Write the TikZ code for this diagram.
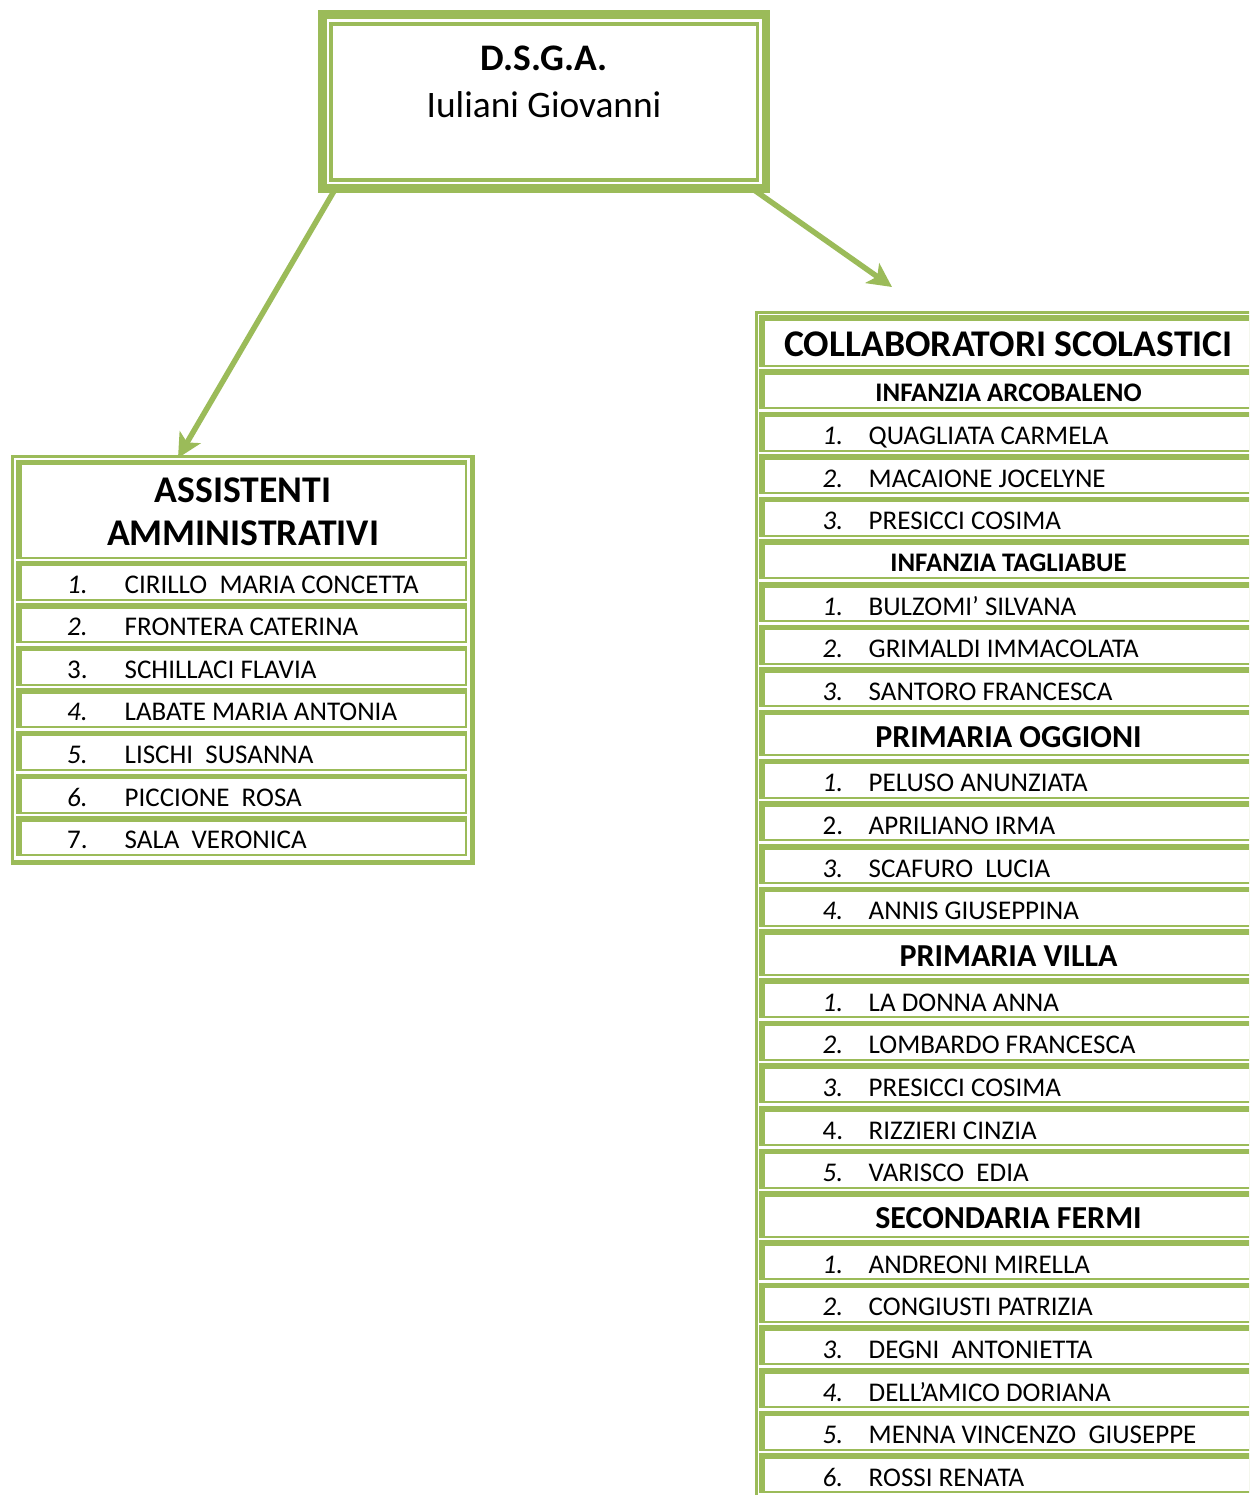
\documentclass[tikz,border=0pt]{standalone}
\usepackage{fontspec}
\setmainfont{Carlito}
\usetikzlibrary{arrows.meta}
\definecolor{leafgreen}{HTML}{9BBB59}

\tikzset{
  cellbox/.style={fill=leafgreen, draw=none, inner sep=0pt, outer sep=0pt, anchor=north west,
    path picture={\fill[white] ([xshift=5.5pt,yshift=-5.5pt]path picture bounding box.north west)
      rectangle ([xshift=-2pt,yshift=2pt]path picture bounding box.south east);}},
  entrytext/.style={inner sep=0pt, anchor=base west, font=\fontsize{27}{32}\selectfont},
  sectiontext/.style={inner sep=0pt, anchor=base, font=\fontsize{26.8}{32}\selectfont\bfseries},
  bigsectiontext/.style={inner sep=0pt, anchor=base, font=\fontsize{32}{38}\selectfont\bfseries},
  headtext/.style={inner sep=0pt, anchor=base, font=\fontsize{37.7}{44}\selectfont\bfseries},
  thinrule/.style={draw=leafgreen, line width=2.5pt},
  thickrule/.style={draw=leafgreen, line width=5.5pt},
  link/.style={draw=leafgreen, line width=5.5pt, -{Stealth[length=24pt,width=24pt,inset=6pt]}},
}

% one numbered row of the left table: name, top, number, entry
\newcommand{\aarow}[4]{%
  \node[cellbox, minimum width=451pt, minimum height=40pt] (#1) at (16,#2) {};
  \node[entrytext] (#1-num) at (67,#2+32.5) {#3};
  \node[entrytext] (#1-name) at (124.5,#2+32.5) {#4};
}
% rows of the right table
\newcommand{\csrow}[4]{%
  \node[cellbox, minimum width=520pt, minimum height=40pt] (#1) at (759,#2) {};
  \node[entrytext] (#1-num) at (822.5,#2+33) {#3};
  \node[entrytext] (#1-name) at (868.5,#2+33) {#4};
}
\newcommand{\cssection}[3]{%
  \node[cellbox, minimum width=520pt, minimum height=40pt] (#1) at (759,#2) {};
  \node[sectiontext] (#1-title) at (1008.5,#2+32.5) {#3};
}
\newcommand{\csbigsection}[3]{%
  \node[cellbox, minimum width=520pt, minimum height=46.5pt] (#1) at (759,#2) {};
  \node[bigsectiontext] (#1-title) at (1008.5,#2+37.5) {#3};
}

\begin{document}
\begin{tikzpicture}[x=1pt,y=-1pt]
\useasboundingbox (0,0) rectangle (1249,1495);
\clip (0,0) rectangle (1249,1495);

% ---- D.S.G.A. box ----
\node[draw=leafgreen, line width=8.5pt, inner sep=0pt, outer sep=0pt,
      minimum width=443.5pt, minimum height=174pt] (dsga) at (544.25,101.5) {};
\draw[leafgreen, line width=3.5pt] ([xshift=8.5pt,yshift=-9.5pt]dsga.north west)
  rectangle ([xshift=-8.5pt,yshift=8.5pt]dsga.south east);
\node[headtext, font=\fontsize{37.5}{44}\selectfont\bfseries] (dsga-title) at (544,70.5) {D.S.G.A.};
\node[inner sep=0pt, anchor=base, font=\fontsize{37.4}{44}\selectfont] (dsga-name) at (544,117.5) {Iuliani Giovanni};

% ---- Assistenti amministrativi ----
\node[inner sep=0pt, outer sep=0pt, anchor=north west, minimum width=464pt, minimum height=410pt] (aa) at (11,455) {};
\draw[thinrule] ([xshift=1.25pt]aa.south west) -- ([xshift=1.25pt,yshift=-1.25pt]aa.north west) -- ([yshift=-1.25pt]aa.north east);
\draw[thickrule] ([xshift=-2.75pt]aa.north east) -- ([xshift=-2.75pt,yshift=2.75pt]aa.south east) -- ([yshift=2.75pt]aa.south west);
\node[cellbox, minimum width=451pt, minimum height=99pt] (aa-head) at (16,459.5) {};
\node[headtext] (aa-title1) at (243,502.5) {ASSISTENTI};
\node[headtext] (aa-title2) at (243,545) {AMMINISTRATIVI};
\aarow{aa1}{560.5}{\itshape 1.}{CIRILLO\ \ MARIA CONCETTA}
\aarow{aa2}{603.1}{\itshape 2.}{FRONTERA CATERINA}
\aarow{aa3}{645.7}{3.}{SCHILLACI FLAVIA}
\aarow{aa4}{688.3}{\itshape 4.}{LABATE MARIA ANTONIA}
\aarow{aa5}{730.9}{\itshape 5.}{LISCHI\ \ SUSANNA}
\aarow{aa6}{773.5}{\itshape 6.}{PICCIONE\ \ ROSA}
\aarow{aa7}{816.1}{7.}{SALA\ \ VERONICA}

% ---- Collaboratori scolastici ----
\node[inner sep=0pt, outer sep=0pt, anchor=north west, minimum width=520pt, minimum height=1190pt] (cs) at (755,311) {};
\draw[thinrule] ([xshift=1.25pt]cs.south west) -- ([xshift=1.25pt,yshift=-1.25pt]cs.north west) -- ([yshift=-1.25pt]cs.north east);
\node[cellbox, minimum width=520pt, minimum height=52pt] (cs-head) at (759,315) {};
\node[headtext] (cs-title) at (1008.5,356) {COLLABORATORI SCOLASTICI};

\cssection{ia}{369}{INFANZIA ARCOBALENO}
\csrow{ia1}{411.6}{\itshape 1.}{QUAGLIATA CARMELA}
\csrow{ia2}{454.2}{\itshape 2.}{MACAIONE JOCELYNE}
\csrow{ia3}{496.8}{\itshape 3.}{PRESICCI COSIMA}

\cssection{it}{539.4}{INFANZIA TAGLIABUE}
\csrow{it1}{582}{\itshape 1.}{BULZOMI’ SILVANA}
\csrow{it2}{624.6}{\itshape 2.}{GRIMALDI IMMACOLATA}
\csrow{it3}{667.2}{\itshape 3.}{SANTORO FRANCESCA}

\csbigsection{po}{709.8}{PRIMARIA OGGIONI}
\csrow{po1}{758.8}{\itshape 1.}{PELUSO ANUNZIATA}
\csrow{po2}{801.4}{2.}{APRILIANO IRMA}
\csrow{po3}{844}{\itshape 3.}{SCAFURO\ \ LUCIA}
\csrow{po4}{886.6}{\itshape 4.}{ANNIS GIUSEPPINA}

\csbigsection{pv}{929.2}{PRIMARIA VILLA}
\csrow{pv1}{978.2}{\itshape 1.}{LA DONNA ANNA}
\csrow{pv2}{1020.8}{\itshape 2.}{LOMBARDO FRANCESCA}
\csrow{pv3}{1063.4}{\itshape 3.}{PRESICCI COSIMA}
\csrow{pv4}{1106}{4.}{RIZZIERI CINZIA}
\csrow{pv5}{1148.6}{\itshape 5.}{VARISCO\ \ EDIA}

\csbigsection{sf}{1191.2}{SECONDARIA FERMI}
\csrow{sf1}{1240.2}{\itshape 1.}{ANDREONI MIRELLA}
\csrow{sf2}{1282.8}{\itshape 2.}{CONGIUSTI PATRIZIA}
\csrow{sf3}{1325.4}{\itshape 3.}{DEGNI\ \ ANTONIETTA}
\csrow{sf4}{1368}{\itshape 4.}{DELL’AMICO DORIANA}
\csrow{sf5}{1410.6}{\itshape 5.}{MENNA VINCENZO\ \ GIUSEPPE}
\csrow{sf6}{1453.2}{\itshape 6.}{ROSSI RENATA}

% ---- connectors ----
\coordinate (cs-in) at (892,287);
\draw[link] ([xshift=13pt]dsga.south west) -- ([xshift=167pt,yshift=-3pt]aa.north west);
\draw[link] ([xshift=-14pt]dsga.south east) -- (cs-in);
\end{tikzpicture}
\end{document}
